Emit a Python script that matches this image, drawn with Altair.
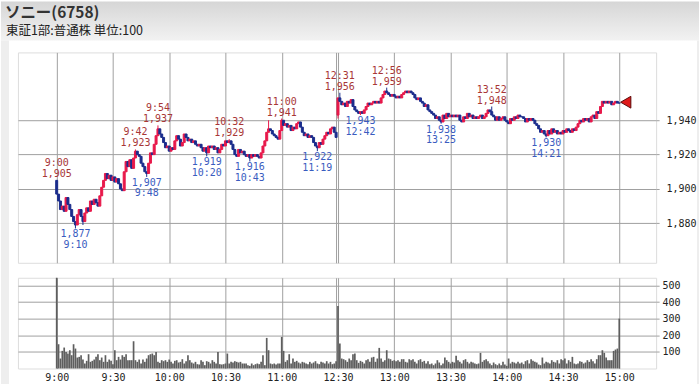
import altair as alt
import pandas as pd

# ---------------- data ----------------
# one-minute closes, morning 9:00-11:29 and afternoon 12:30-15:00
am_open = 1905
am_close = [
    1897, 1893, 1888, 1890, 1887, 1895, 1891, 1888, 1884, 1881,
    1879, 1885, 1888, 1884, 1881, 1886, 1889, 1887, 1893, 1891,
    1894, 1892, 1890, 1896, 1901, 1905, 1909, 1906, 1908, 1905,
    1907, 1904, 1906, 1903, 1900, 1899, 1910, 1916, 1913, 1917,
    1912, 1918, 1922, 1920, 1919, 1915, 1913, 1910, 1909, 1915,
    1921, 1920, 1926, 1931, 1935, 1932, 1930, 1927, 1924, 1925,
    1922, 1924, 1923, 1928, 1931, 1929, 1925, 1927, 1932, 1930,
    1928, 1929, 1927, 1928, 1926, 1925, 1926, 1924, 1922, 1924,
    1921, 1925, 1924, 1925, 1923, 1924, 1921, 1923, 1926, 1925,
    1928, 1927, 1928, 1926, 1923, 1920, 1919, 1923, 1921, 1922,
    1920, 1919, 1920, 1918, 1920, 1919, 1920, 1919, 1918, 1921,
    1925, 1928, 1933, 1935, 1934, 1932, 1931, 1930, 1929, 1934,
    1940, 1937, 1938, 1936, 1937, 1934, 1936, 1935, 1938, 1939,
    1936, 1933, 1931, 1932, 1930, 1931, 1930, 1927, 1925, 1924,
    1927, 1926, 1929, 1931, 1933, 1932, 1935, 1936, 1933, 1930,
]
pm_open = 1943
pm_close = [
    1953, 1951, 1949, 1950, 1948, 1951, 1950, 1952, 1948, 1946,
    1945, 1944, 1945, 1944, 1946, 1948, 1950, 1949, 1950, 1951,
    1950, 1951, 1950, 1953, 1955, 1957, 1956, 1955, 1954, 1955,
    1954, 1953, 1954, 1953, 1955, 1956, 1957, 1956, 1957, 1956,
    1955, 1953, 1952, 1953, 1951, 1950, 1948, 1949, 1946, 1945,
    1944, 1943, 1941, 1942, 1940, 1939, 1943, 1941, 1944, 1942,
    1943, 1942, 1943, 1942, 1943, 1940, 1939, 1942, 1941, 1944,
    1942, 1943, 1941, 1942, 1941, 1942, 1943, 1941, 1942, 1944,
    1946, 1945, 1943, 1942, 1940, 1942, 1940, 1941, 1942, 1940,
    1939, 1938, 1941, 1940, 1942, 1941, 1943, 1942, 1942, 1941,
    1939, 1941, 1940, 1941, 1940, 1938, 1937, 1935, 1933, 1934,
    1932, 1931, 1934, 1932, 1935, 1933, 1934, 1932, 1933, 1932,
    1934, 1933, 1935, 1934, 1933, 1935, 1934, 1936, 1938, 1940,
    1939, 1941, 1940, 1941, 1939, 1942, 1943, 1941, 1945, 1944,
    1948, 1951, 1950, 1951, 1950, 1951, 1949, 1950, 1951, 1950,
    1950,
]
am_volume = [
    560, 146, 60, 106, 126, 100, 90, 110, 80, 146,
    120, 66, 70, 80, 54, 30, 46, 86, 40, 46,
    54, 70, 86, 50, 66, 40, 80, 40, 54, 46,
    26, 110, 50, 70, 54, 80, 70, 86, 50, 50,
    50, 164, 50, 40, 54, 30, 54, 40, 60, 80,
    86, 90, 80, 100, 40, 34, 50, 44, 50, 40,
    54, 40, 30, 46, 50, 36, 40, 56, 30, 44,
    80, 50, 36, 30, 40, 26, 24, 50, 40, 20,
    44, 40, 30, 50, 40, 30, 100, 26, 24, 26,
    30, 90, 30, 40, 36, 44, 40, 36, 40, 30,
    30, 30, 20, 16, 30, 20, 26, 30, 26, 40,
    80, 20, 184, 110, 30, 26, 30, 24, 30, 30,
    190, 106, 40, 50, 86, 30, 60, 40, 46, 36,
    30, 40, 36, 30, 26, 40, 30, 36, 44, 30,
    26, 40, 36, 30, 44, 30, 40, 26, 30, 44,
]
pm_volume = [
    376, 150, 60, 56, 50, 40, 60, 50, 86, 90,
    50, 34, 46, 40, 30, 50, 56, 40, 66, 70,
    40, 60, 124, 60, 40, 50, 110, 60, 56, 46,
    50, 44, 50, 40, 56, 56, 40, 36, 56, 50,
    56, 40, 30, 50, 56, 40, 46, 30, 44, 26,
    30, 20, 30, 50, 36, 20, 30, 66, 50, 40,
    30, 40, 36, 76, 50, 40, 30, 50, 56, 40,
    30, 40, 36, 30, 26, 30, 94, 40, 50, 56,
    44, 30, 20, 36, 26, 20, 30, 20, 40, 24,
    16, 60, 30, 40, 36, 30, 40, 30, 36, 26,
    44, 50, 30, 56, 46, 40, 36, 24, 20, 66,
    30, 40, 36, 30, 50, 40, 36, 50, 30, 56,
    50, 60, 30, 50, 40, 70, 30, 26, 30, 44,
    40, 30, 36, 50, 40, 56, 44, 30, 56, 80,
    80, 110, 94, 66, 50, 50, 50, 106, 114, 120,
    300,
]

# annotated highs / lows (minute position, price, time label)
hi_pos = [0, 42, 54, 92, 120, 151, 176, 232]
hi_price = [1905, 1923, 1937, 1929, 1941, 1956, 1959, 1948]
hi_time = ["9:00", "9:42", "9:54", "10:32", "11:00", "12:31", "12:56", "13:52"]
lo_pos = [10, 48, 80, 103, 139, 162, 205, 261]
lo_price = [1877, 1907, 1919, 1916, 1922, 1943, 1938, 1930]
lo_time = ["9:10", "9:48", "10:20", "10:43", "11:19", "12:42", "13:25", "14:21"]
extra_high_pos = [113]
extra_high_val = [1940]
extra_low_pos = [14, 150]
extra_low_val = [1879, 1941]

last_price = 1950.5

tick_minutes = [0, 30, 60, 90, 120, 149, 150, 180, 210, 240, 270, 300]
tick_labels = ["9:00", "9:30", "10:00", "10:30", "11:00", "", "12:30",
               "13:00", "13:30", "14:00", "14:30", "15:00"]
price_ticks = [1880, 1900, 1920, 1940]
volume_ticks = [100, 200, 300, 400, 500]

# ---------------- build table ----------------
closes = am_close + pm_close
volumes = am_volume + pm_volume
n_am = len(am_close)
opens = []
for i, c in enumerate(closes):
    if i == 0:
        opens.append(am_open)
    elif i == n_am:
        opens.append(pm_open)
    else:
        opens.append(closes[i - 1])
hmap = dict(zip(hi_pos, hi_price))
hmap.update(dict(zip(extra_high_pos, extra_high_val)))
lmap = dict(zip(lo_pos, lo_price))
lmap.update(dict(zip(extra_low_pos, extra_low_val)))
rows = []
for i, (o, c, v) in enumerate(zip(opens, closes, volumes)):
    rows.append({
        "pos": i, "open": o, "close": c, "volume": v,
        "high": max(o, c, hmap.get(i, o)),
        "low": min(o, c, lmap.get(i, o)),
        "dir": "up" if c > o else "down",
    })
df = pd.DataFrame(rows)

ann_hi = pd.DataFrame({"pos": hi_pos, "price": hi_price, "time": hi_time,
                       "ptxt": [f"{p:,}" for p in hi_price]})
ann_lo = pd.DataFrame({"pos": lo_pos, "price": lo_price, "time": lo_time,
                       "ptxt": [f"{p:,}" for p in lo_price]})
last = pd.DataFrame({"pos": [len(closes) - 1], "price": [last_price]})
one = pd.DataFrame({"k": [0]})

# ---------------- styling ----------------
MONO = "DejaVu Sans Mono"
CJK = "Noto Sans CJK JP"
GRID = "#a0a0a0"
RED = "#e8194b"
BLUE = "#1b2d8d"
X_SCALE = alt.Scale(domain=[-18, 317], nice=False, zero=False)
P_SCALE = alt.Scale(domain=[1857, 1979.5], nice=False, zero=False)
C_SCALE = alt.Scale(domain=["up", "down"], range=[RED, BLUE])

label_expr = "[" + ",".join(f"'{t}'" for t in tick_labels) + "][indexof([" + \
    ",".join(str(m) for m in tick_minutes) + "], datum.value)]"

# page decoration (header band and side strips)
header = alt.Chart(one).mark_rect(
    fill=alt.Gradient(gradient="linear",
                      stops=[alt.GradientStop(color="#d6d6d6", offset=0),
                             alt.GradientStop(color="#f2f2f2", offset=1)],
                      x1=0, x2=0, y1=0, y2=1)
).encode(x=alt.value(-17), x2=alt.value(683), y=alt.value(-51), y2=alt.value(-12))
left_strip = alt.Chart(one).mark_rect(fill="#eeeeee").encode(
    x=alt.value(-17), x2=alt.value(-9), y=alt.value(-12), y2=alt.value(333))
right_strip = alt.Chart(one).mark_rect(fill="#eeeeee").encode(
    x=alt.value(681), x2=alt.value(683), y=alt.value(-12), y2=alt.value(333))
title_txt = alt.Chart(one).mark_text(
    text="ソニー(6758)", align="left", baseline="alphabetic", font=CJK,
    fontSize=15.5, fontWeight="bold", color="#333333"
).encode(x=alt.value(-13), y=alt.value(-35))
sub_txt = alt.Chart(one).mark_text(
    text="東証1部:普通株 単位:100", align="left", baseline="alphabetic", font=CJK,
    fontSize=12.5, color="#222222"
).encode(x=alt.value(-12), y=alt.value(-17))

wick = alt.Chart(df).mark_rule(strokeWidth=1).encode(
    x=alt.X("pos:Q", scale=X_SCALE, title=None,
            axis=alt.Axis(values=tick_minutes, labels=False, ticks=False,
                          domain=False, grid=True, gridColor=GRID, gridOpacity=1)),
    y=alt.Y("low:Q", scale=P_SCALE, title=None,
            axis=alt.Axis(orient="right", values=price_ticks, format=",d",
                          tickSize=3, tickColor=GRID, domain=False, grid=True,
                          gridColor=GRID, gridOpacity=1, labelFont=MONO,
                          labelFontSize=10, labelColor="#222222", labelPadding=7)),
    y2="high:Q",
    color=alt.Color("dir:N", scale=C_SCALE, legend=None),
)
body = alt.Chart(df).mark_bar(width=2, strokeWidth=1).encode(
    x=alt.X("pos:Q", title=None),
    y=alt.Y("open:Q", title=None),
    y2="close:Q",
    fill=alt.Fill("dir:N", scale=C_SCALE, legend=None),
    stroke=alt.Stroke("dir:N", scale=C_SCALE, legend=None),
)
txt_style = dict(font=MONO, fontSize=10, baseline="middle", align="center")
hi_a = alt.Chart(ann_hi).mark_text(dy=-17, color="#a83636", **txt_style).encode(
    x=alt.X("pos:Q", title=None), y=alt.Y("price:Q", title=None), text="time:N")
hi_b = alt.Chart(ann_hi).mark_text(dy=-6, color="#a83636", **txt_style).encode(
    x=alt.X("pos:Q", title=None), y=alt.Y("price:Q", title=None), text="ptxt:N")
lo_a = alt.Chart(ann_lo).mark_text(dy=6, color="#3a5cbf", **txt_style).encode(
    x=alt.X("pos:Q", title=None), y=alt.Y("price:Q", title=None), text="ptxt:N")
lo_b = alt.Chart(ann_lo).mark_text(dy=16.5, color="#3a5cbf", **txt_style).encode(
    x=alt.X("pos:Q", title=None), y=alt.Y("price:Q", title=None), text="time:N")
tri = alt.Chart(last).mark_point(
    shape="triangle-left", size=140, filled=True, fill="#e01a1a",
    stroke="#5a0a0a", strokeWidth=1, opacity=1, xOffset=6.5
).encode(x=alt.X("pos:Q", title=None), y=alt.Y("price:Q", title=None))

price = alt.layer(header, left_strip, right_strip, title_txt, sub_txt,
                  wick, body, hi_a, hi_b, lo_a, lo_b, tri).properties(width=640, height=211)

vol = alt.Chart(df).mark_bar(width=1.7, color="#5e5e5e").encode(
    x=alt.X("pos:Q", scale=X_SCALE, title=None,
            axis=alt.Axis(values=tick_minutes, labelExpr=label_expr, ticks=False,
                          domain=False, grid=True, gridColor=GRID, gridOpacity=1,
                          labelFont=MONO, labelFontSize=10, labelColor="#222222",
                          labelPadding=4, labelOverlap=False, labelFlush=False)),
    y=alt.Y("volume:Q", title=None,
            scale=alt.Scale(domain=[0, 546], nice=False, clamp=True),
            axis=alt.Axis(orient="right", values=volume_ticks, tickSize=3,
                          tickColor=GRID, domain=False, grid=True, gridColor=GRID,
                          gridOpacity=1, labelFont=MONO, labelFontSize=10,
                          labelColor="#222222", labelPadding=3)),
).properties(width=640, height=91)

chart = alt.vconcat(price, vol, spacing=15, bounds="flush").properties(
    padding=0
).configure_view(stroke=GRID, strokeWidth=1).configure(background="#ffffff")

chart.save("out.html", embed_options={"renderer": "svg", "actions": False})
